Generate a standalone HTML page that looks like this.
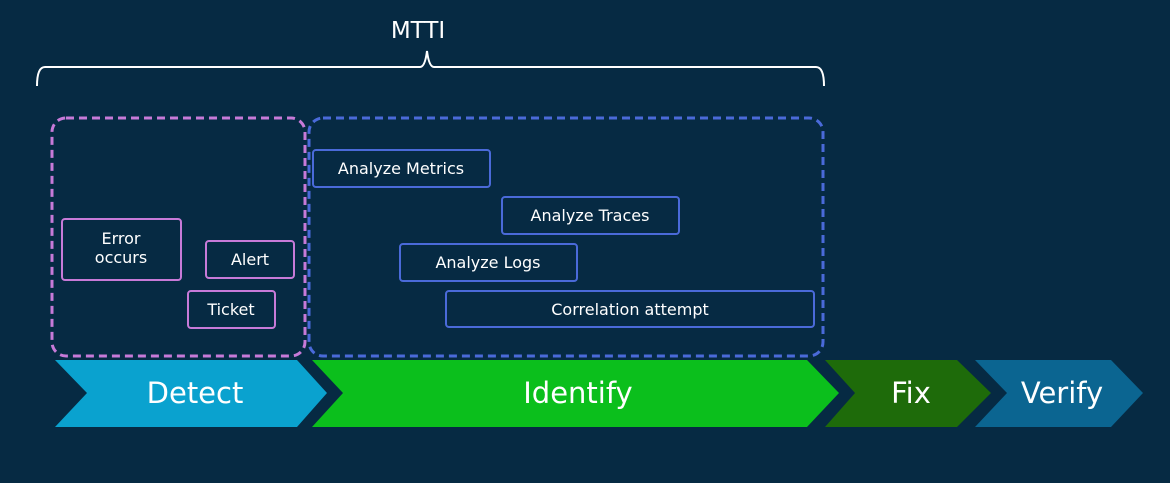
<!DOCTYPE html>
<html><head><meta charset="utf-8"><style>
html,body{margin:0;padding:0;background:#062a43;}
body{width:1170px;height:483px;overflow:hidden;position:relative;font-family:"DejaVu Sans","Liberation Sans",sans-serif;}
</style></head><body>
<svg width="1170" height="483" viewBox="0 0 1170 483" xmlns="http://www.w3.org/2000/svg" style="position:absolute;left:0;top:0">
<rect width="1170" height="483" fill="#062a43"/>
<text x="418" y="38" fill="#fff" font-size="23" text-anchor="middle" font-family="DejaVu Sans, sans-serif">MTTI</text>
<path d="M37 86 Q37 67 45 67 L420 67 Q425 67 427 51 Q429 67 434 67 L816 67 Q824 67 824 86" fill="none" stroke="#fff" stroke-width="2"/>
<rect x="52" y="118" width="253" height="238" rx="14" fill="none" stroke="#c77ad8" stroke-width="3" stroke-dasharray="8,5"/>
<rect x="309" y="118" width="514" height="238" rx="14" fill="none" stroke="#4a6ad9" stroke-width="3" stroke-dasharray="8,5"/>
<g fill="none" stroke="#c77ad8" stroke-width="2">
<rect x="62" y="219" width="119" height="61" rx="3"/>
<rect x="206" y="241" width="88" height="37" rx="3"/>
<rect x="188" y="291" width="87" height="37" rx="3"/>
</g>
<g fill="none" stroke="#4a6ad9" stroke-width="2">
<rect x="313" y="150" width="177" height="37" rx="3"/>
<rect x="502" y="197" width="177" height="37" rx="3"/>
<rect x="400" y="244" width="177" height="37" rx="3"/>
<rect x="446" y="291" width="368" height="36" rx="3"/>
</g>
<g fill="#fff" font-size="16" text-anchor="middle">
<text x="121" y="244">Error</text>
<text x="121" y="263">occurs</text>
<text x="250" y="265">Alert</text>
<text x="231" y="315">Ticket</text>
<text x="401" y="174">Analyze Metrics</text>
<text x="590" y="221">Analyze Traces</text>
<text x="488" y="268">Analyze Logs</text>
<text x="630" y="315">Correlation attempt</text>
</g>
<polygon points="55,360 297,360 327,393 297,427 55,427 87,393" fill="#0aa2cf"/>
<polygon points="312,360 807,360 839,393 807,427 312,427 343,393" fill="#0bbf1c"/>
<polygon points="825,360 957,360 991,393 957,427 825,427 855,393" fill="#1e6b0a"/>
<polygon points="975,360 1111,360 1143,393 1111,427 975,427 1007,393" fill="#0b6591"/>
<g fill="#fff" font-size="29" text-anchor="middle">
<text x="195" y="403">Detect</text>
<text x="578" y="403">Identify</text>
<text x="911" y="403">Fix</text>
<text x="1062" y="403">Verify</text>
</g>
</svg>
</body></html>
